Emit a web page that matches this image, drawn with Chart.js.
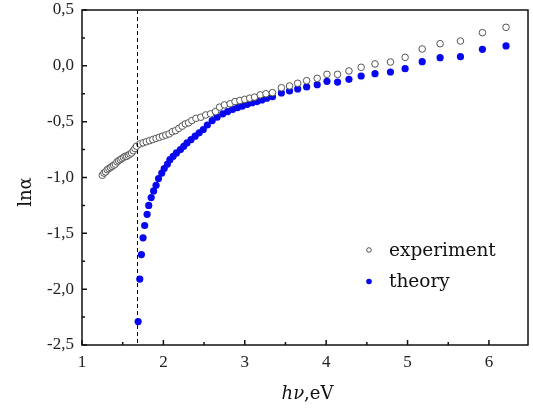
<!DOCTYPE html>
<html>
<head>
<meta charset="utf-8">
<script src="https://cdn.jsdelivr.net/npm/chart.js@4"></script>
<style>
  html, body { margin: 0; padding: 0; background: #fff; }
  #wrap { width: 533px; height: 410px; }
</style>
</head>
<body>
<div id="wrap"><canvas id="chart" width="533" height="410"></canvas></div>
<script>
// experiment (open circles)
const expX = [1.25, 1.27, 1.29, 1.31, 1.33, 1.35, 1.37, 1.39, 1.41, 1.43, 1.45, 1.47, 1.49, 1.51, 1.53, 1.55, 1.57, 1.59, 1.61, 1.63, 1.65, 1.67,
  1.71, 1.75, 1.79, 1.83, 1.87, 1.91, 1.95, 1.99, 2.03, 2.07, 2.11, 2.15, 2.19, 2.23, 2.27, 2.31, 2.35, 2.40, 2.46, 2.52, 2.58, 2.64,
  2.69, 2.75, 2.82, 2.88, 2.94, 3.00, 3.06, 3.12, 3.19, 3.26, 3.34,
  3.45, 3.55, 3.65, 3.76, 3.89, 4.01, 4.14, 4.28, 4.43, 4.60, 4.79, 4.97, 5.18, 5.40, 5.65, 5.92, 6.21];
const expY = [-0.98, -0.96, -0.95, -0.93, -0.92, -0.91, -0.90, -0.89, -0.88, -0.86, -0.85, -0.84, -0.83, -0.82, -0.81, -0.81, -0.80, -0.79, -0.78, -0.76, -0.74, -0.72,
  -0.70, -0.69, -0.68, -0.67, -0.66, -0.65, -0.64, -0.63, -0.62, -0.61, -0.59, -0.58, -0.56, -0.54, -0.52, -0.51, -0.49, -0.47, -0.46, -0.44, -0.43, -0.41,
  -0.37, -0.35, -0.34, -0.32, -0.31, -0.30, -0.29, -0.28, -0.26, -0.25, -0.24,
  -0.196, -0.180, -0.156, -0.133, -0.112, -0.076, -0.076, -0.046, -0.013, 0.017, 0.034, 0.076, 0.151, 0.198, 0.222, 0.297, 0.345];

// theory (filled blue)
const theoX = [1.69, 1.71, 1.73, 1.75, 1.77, 1.80, 1.82, 1.85, 1.88, 1.91, 1.94, 1.98, 2.01, 2.05, 2.08, 2.12, 2.16, 2.21, 2.25, 2.29, 2.34, 2.39, 2.44, 2.49, 2.54,
  2.60, 2.66, 2.73, 2.79, 2.85, 2.91, 2.97, 3.03, 3.09, 3.15, 3.21, 3.27, 3.34,
  3.45, 3.55, 3.65, 3.76, 3.89, 4.01, 4.14, 4.28, 4.43, 4.60, 4.79, 4.97, 5.18, 5.40, 5.65, 5.92, 6.21];
const theoY = [-2.29, -1.91, -1.69, -1.54, -1.43, -1.33, -1.25, -1.18, -1.12, -1.07, -1.01, -0.96, -0.92, -0.88, -0.84, -0.81, -0.78, -0.75, -0.72, -0.69, -0.66, -0.63, -0.60, -0.57, -0.53,
  -0.49, -0.46, -0.43, -0.41, -0.39, -0.375, -0.36, -0.345, -0.33, -0.32, -0.306, -0.29, -0.276,
  -0.243, -0.225, -0.207, -0.189, -0.169, -0.139, -0.145, -0.121, -0.091, -0.070, -0.055, -0.025, 0.037, 0.073, 0.082, 0.148, 0.178];

const seriesNames = ['experiment', 'theory'];
const xTicks = [1, 2, 3, 4, 5, 6];
const yTicks = [-2.5, -2.0, -1.5, -1.0, -0.5, 0.0, 0.5];
const edgeX = 1.67; // dashed line

const FONT = '"Liberation Serif", "DejaVu Serif", serif';
const WIDE = '"DejaVu Serif", serif';
const BLUE = '#0808ee';

const toPoints = (xs, ys) => xs.map((x, i) => ({ x: x, y: ys[i] }));

// frame, inward ticks, dashed line, legend, axis titles
const decor = {
  id: 'decor',
  afterDatasetsDraw(chart) {
    const c = chart.ctx, a = chart.chartArea;
    const xs = chart.scales.x, ys = chart.scales.y;
    c.save();

    // dashed line
    const dx = Math.round(xs.getPixelForValue(edgeX)) + 0.5;
    c.strokeStyle = '#000';
    c.lineWidth = 1;
    c.setLineDash([4, 3]);
    c.beginPath();
    c.moveTo(dx, a.top);
    c.lineTo(dx, a.bottom);
    c.stroke();
    c.setLineDash([]);

    // frame
    c.lineWidth = 1.5;
    c.strokeStyle = '#111';
    c.strokeRect(a.left, a.top, a.right - a.left, a.bottom - a.top);

    // ticks
    c.beginPath();
    for (let v = 1; v <= 6.01; v += 0.5) {
      const px = xs.getPixelForValue(v);
      const len = Number.isInteger(v) ? 5 : 3;
      c.moveTo(px, a.bottom);
      c.lineTo(px, a.bottom - len);
    }
    for (let v = -2.5; v <= 0.51; v += 0.25) {
      const py = ys.getPixelForValue(v);
      const len = Math.abs(v * 2 - Math.round(v * 2)) < 1e-6 ? 5 : 3;
      c.moveTo(a.left, py);
      c.lineTo(a.left + len, py);
    }
    c.stroke();

    // legend
    const lx = 369;
    c.font = '18.5px ' + WIDE;
    c.textBaseline = 'alphabetic';
    c.beginPath();
    c.arc(lx, 250, 2.3, 0, Math.PI * 2);
    c.fillStyle = '#fff';
    c.fill();
    c.strokeStyle = '#555';
    c.lineWidth = 1;
    c.stroke();
    c.fillStyle = '#111';
    c.fillText(seriesNames[0], 389, 256);
    c.beginPath();
    c.arc(lx, 281.5, 2.8, 0, Math.PI * 2);
    c.fillStyle = BLUE;
    c.fill();
    c.fillStyle = '#111';
    c.fillText(seriesNames[1], 389, 287);

    // x title: italic h nu, then ",eV"
    const t1 = 'hν', t2 = ',eV';
    c.font = 'italic 18px ' + WIDE;
    const w1 = c.measureText(t1).width;
    c.font = '18px ' + WIDE;
    const w2 = c.measureText(t2).width;
    const tx = 307.5 - (w1 + w2) / 2;
    c.font = 'italic 18px ' + WIDE;
    c.fillText(t1, tx, 399);
    c.font = '18px ' + WIDE;
    c.fillText(t2, tx + w1, 399);

    // y title
    c.translate(26, 192);
    c.rotate(-Math.PI / 2);
    c.textAlign = 'center';
    c.textBaseline = 'middle';
    c.font = '18px ' + WIDE;
    c.fillText('lnα', 0, 0);
    c.restore();
  }
};

new Chart(document.getElementById('chart'), {
  type: 'scatter',
  data: {
    datasets: [
      {
        label: seriesNames[0],
        data: toPoints(expX, expY),
        pointRadius: 3.3,
        pointBorderWidth: 1,
        pointBackgroundColor: '#fff',
        pointBorderColor: '#555',
        order: 1
      },
      {
        label: seriesNames[1],
        data: toPoints(theoX, theoY),
        pointRadius: 3.6,
        pointBorderWidth: 0,
        pointBackgroundColor: BLUE,
        pointBorderColor: BLUE,
        order: 2
      }
    ]
  },
  options: {
    responsive: false,
    animation: false,
    layout: { padding: { top: 10, right: 1, left: 0, bottom: 0 } },
    plugins: {
      legend: { display: false },
      tooltip: { enabled: false }
    },
    scales: {
      x: {
        type: 'linear',
        min: 1,
        max: 6.48,
        grid: { display: false, drawTicks: false },
        border: { display: false },
        afterBuildTicks: s => { s.ticks = xTicks.map(v => ({ value: v })); },
        afterFit: s => { s.height = 65; s.paddingLeft = 0; s.paddingRight = 0; },
        ticks: {
          padding: 7,
          maxRotation: 0,
          color: '#222',
          font: { family: FONT, size: 17 },
          callback: v => String(v)
        }
      },
      y: {
        type: 'linear',
        min: -2.5,
        max: 0.5,
        grid: { display: false, drawTicks: false },
        border: { display: false },
        afterBuildTicks: s => { s.ticks = yTicks.map(v => ({ value: v })); },
        afterFit: s => { s.width = 82; s.paddingTop = 0; s.paddingBottom = 0; },
        ticks: {
          padding: 8,
          color: '#222',
          font: { family: FONT, size: 17 },
          callback: v => v.toFixed(1).replace('.', ',')
        }
      }
    }
  },
  plugins: [decor]
});
</script>
</body>
</html>
